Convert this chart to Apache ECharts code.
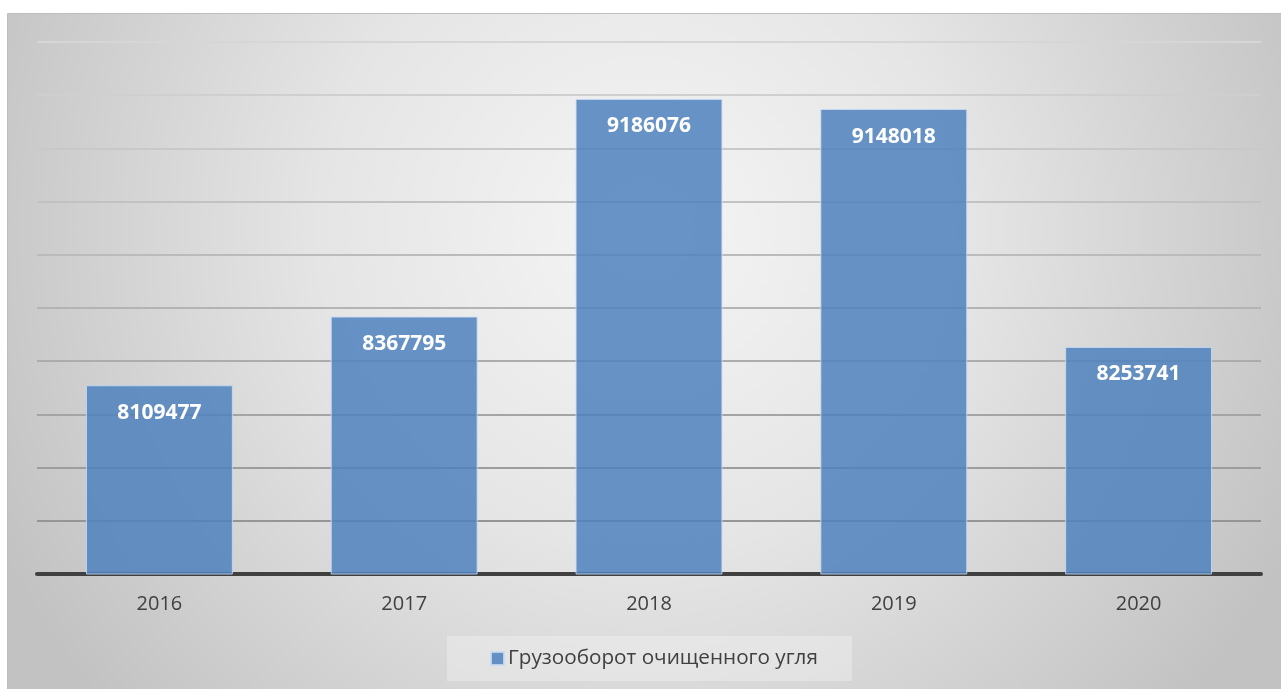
<!DOCTYPE html>
<html>
<head>
<meta charset="utf-8">
<script src="https://cdn.jsdelivr.net/npm/echarts@6/dist/echarts.min.js"></script>
<style>
html,body{margin:0;padding:0;background:#ffffff;}
#chart{width:1281px;height:689px;}
</style>
</head>
<body>
<div id="chart"></div>
<script>
const categories = ['2016', '2017', '2018', '2019', '2020'];
const seriesName = 'Грузооборот очищенного угля';
const values = [8109477, 8367795, 9186076, 9148018, 8253741];
const yMin = 7400000;
const yMax = 9400000;
const yStep = 200000;

const chart = echarts.init(document.getElementById('chart'), null, {renderer: 'canvas'});
const FONT = 'Open Sans';

chart.setOption({
  animation: false,
  backgroundColor: '#ffffff',
  textStyle: {fontFamily: FONT},
  graphic: [{
    type: 'rect',
    z: -100,
    silent: true,
    shape: {x: 7.5, y: 13.5, width: 1290, height: 690},
    style: {
      fill: {
        type: 'radial', x: 644, y: 230, r: 720, global: true,
        colorStops: [
          {offset: 0, color: '#f5f5f5'},
          {offset: 0.45, color: '#e5e5e5'},
          {offset: 1, color: '#c2c2c2'}
        ]
      },
      stroke: '#bdbdbd',
      lineWidth: 1
    }
  }],
  grid: {left: 37, right: 20, top: 42, bottom: 115, containLabel: false},
  legend: {
    data: [seriesName],
    left: 447,
    top: 636,
    padding: [12, 34, 12, 43],
    backgroundColor: 'rgba(255,255,255,0.28)',
    itemWidth: 13,
    itemHeight: 13,
    itemGap: 6,
    icon: 'rect',
    textStyle: {fontFamily: FONT, fontSize: 20.7, color: '#404040', padding: [0, 0, 0, -1]}
  },
  xAxis: {
    type: 'category',
    data: categories,
    axisLine: {show: true, lineStyle: {color: '#404040', width: 4}},
    axisTick: {show: false},
    axisLabel: {color: '#404040', fontSize: 20, fontFamily: FONT, margin: 20}
  },
  yAxis: {
    type: 'value',
    min: yMin,
    max: yMax,
    interval: yStep,
    axisLine: {show: false},
    axisTick: {show: false},
    axisLabel: {show: false},
    splitLine: {
      show: true,
      lineStyle: {
        width: 2,
        color: {
          type: 'linear', x: 0, y: 42, x2: 0, y2: 574, global: true,
          colorStops: [
            {offset: 0, color: '#d6d6d6'},
            {offset: 0.4, color: '#bbbbbb'},
            {offset: 1, color: '#8e8e8e'}
          ]
        }
      }
    }
  },
  series: [{
    name: seriesName,
    type: 'bar',
    data: values,
    barCategoryGap: '40%',
    itemStyle: {
      color: 'rgba(79,129,189,0.85)',
      borderColor: 'rgba(200,220,245,0.85)',
      borderWidth: 1
    },
    label: {
      show: true,
      position: 'insideTop',
      distance: 17,
      color: '#ffffff',
      fontWeight: 'bold',
      fontSize: 21,
      fontFamily: FONT
    }
  }]
});
</script>
</body>
</html>
